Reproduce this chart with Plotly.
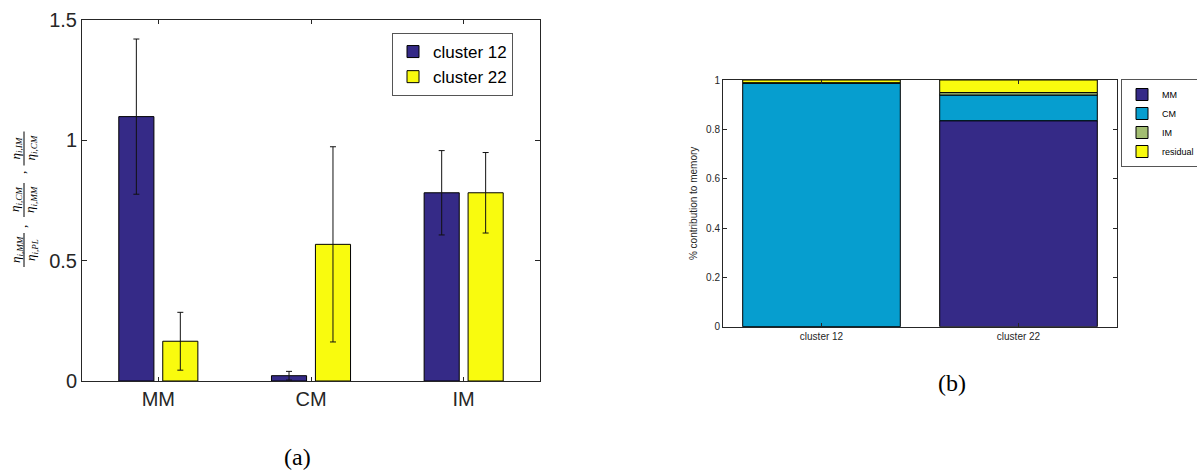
import plotly.graph_objects as go

# ---- data: panel (a) ----
categories = ["MM", "CM", "IM"]
c12_vals = [1.097, 0.022, 0.781]
c12_err = [0.322, 0.018, 0.175]
c22_vals = [0.165, 0.567, 0.781]
c22_err = [0.120, 0.405, 0.167]

# ---- data: panel (b) ----
clusters = ["cluster 12", "cluster 22"]
mm_share = [0.0, 0.835]
cm_share = [0.987, 0.104]
im_share = [0.002, 0.010]
residual_share = [0.011, 0.051]

left_yticks = [0, 0.5, 1, 1.5]
left_yticklabels = ["0", "0.5", "1", "1.5"]
right_yticks = [0, 0.2, 0.4, 0.6, 0.8, 1]
right_yticklabels = ["0", "0.2", "0.4", "0.6", "0.8", "1"]

DARK = "#352A87"
CYAN = "#069ECF"
GREEN = "#A3BE72"
YELLOW = "#F9FB0E"
AX = "#262626"
W, H = 1197, 470

fig = go.Figure()

bw = 0.23
err_style = dict(type="data", thickness=1, width=3, color="#111111")
fig.add_trace(go.Bar(
    x=categories, y=c12_vals, name="cluster 12", xaxis="x", yaxis="y",
    width=bw, offset=-0.144 - bw / 2,
    marker=dict(color=DARK, line=dict(color="black", width=1)),
    error_y=dict(array=c12_err, **err_style), legend="legend",
))
fig.add_trace(go.Bar(
    x=categories, y=c22_vals, name="cluster 22", xaxis="x", yaxis="y",
    width=bw, offset=0.144 - bw / 2,
    marker=dict(color=YELLOW, line=dict(color="black", width=1)),
    error_y=dict(array=c22_err, **err_style), legend="legend",
))

# stacked shares (panel b), bases from cumulative sums
layers = [("MM", mm_share, DARK), ("CM", cm_share, CYAN),
          ("IM", im_share, GREEN), ("residual", residual_share, YELLOW)]
base = [0.0] * len(clusters)
for name, vals, col in layers:
    fig.add_trace(go.Bar(
        x=clusters, y=vals, base=list(base), name=name, xaxis="x2", yaxis="y2",
        width=0.8, marker=dict(color=col, line=dict(color="black", width=1)),
        legend="legend2",
    ))
    base = [b + v for b, v in zip(base, vals)]

axis_common = dict(showline=True, linecolor=AX, linewidth=1, mirror="ticks",
                   ticks="inside", tickcolor=AX, showgrid=False, zeroline=False,
                   automargin=False)

fig.update_layout(
    width=W, height=H,
    margin=dict(l=0, r=0, t=0, b=0, pad=0, autoexpand=False),
    paper_bgcolor="white", plot_bgcolor="white",
    barmode="overlay",
    xaxis=dict(domain=[82 / W, 540 / W], range=[-0.5, 2.5], anchor="y",
               tickfont=dict(family="Liberation Sans", size=20, color=AX),
               ticklen=4, **axis_common),
    yaxis=dict(domain=[1 - 381 / H, 1 - 19.5 / H], range=[0, 1.5], anchor="x",
               tickvals=left_yticks, ticktext=left_yticklabels,
               tickfont=dict(family="Liberation Sans", size=20, color=AX),
               ticklen=5, **axis_common),
    xaxis2=dict(domain=[723 / W, 1117 / W], range=[-0.5, 1.5], anchor="y2",
                tickfont=dict(family="Liberation Sans", size=10, color=AX),
                ticklen=4, **axis_common),
    yaxis2=dict(domain=[1 - 326.7 / H, 1 - 80 / H], range=[0, 1], anchor="x2",
                tickvals=right_yticks, ticktext=right_yticklabels,
                tickfont=dict(family="Liberation Sans", size=10, color=AX),
                ticklen=4,
                title=dict(text="% contribution to memory",
                           font=dict(family="Liberation Sans", size=10, color=AX),
                           standoff=6),
                **axis_common),
    legend=dict(x=392 / W, y=1 - 33 / H, xanchor="left", yanchor="top",
                bgcolor="white", bordercolor="#555555", borderwidth=1,
                font=dict(family="Liberation Sans", size=17, color="black"),
                itemwidth=30, tracegroupgap=0),
    legend2=dict(x=1121 / W, y=1 - 79 / H, xanchor="left", yanchor="top",
                 bgcolor="white", bordercolor="#555555", borderwidth=1,
                 font=dict(family="Liberation Sans", size=9, color="black"),
                 itemwidth=30, tracegroupgap=0),
    showlegend=True,
)

# captions
cap_font = dict(family="Liberation Serif", size=24, color="black")
fig.add_annotation(text="(a)", x=297 / W, y=1 - 457 / H, xref="paper", yref="paper",
                   xanchor="center", yanchor="middle", showarrow=False, font=cap_font)
fig.add_annotation(text="(b)", x=952 / W, y=1 - 383 / H, xref="paper", yref="paper",
                   xanchor="center", yanchor="middle", showarrow=False, font=cap_font)

# left y label: three fractions, rotated
fracs = [("MM", "PL", 250), ("CM", "MM", 200), ("IM", "CM", 148.5)]
serif = dict(family="Liberation Serif", size=13, color="black")
for num, den, yc in fracs:
    fig.add_annotation(text=f"<i>η</i><sub><i>i,{num}</i></sub>", x=16 / W, y=1 - yc / H,
                       xref="paper", yref="paper", showarrow=False, textangle=-90,
                       xanchor="center", yanchor="middle", font=serif)
    fig.add_annotation(text=f"<i>η</i><sub><i>i,{den}</i></sub>", x=31 / W, y=1 - yc / H,
                       xref="paper", yref="paper", showarrow=False, textangle=-90,
                       xanchor="center", yanchor="middle", font=serif)
    fig.add_shape(type="line", xref="paper", yref="paper",
                  x0=24 / W, x1=24 / W, y0=1 - (yc - 17) / H, y1=1 - (yc + 17) / H,
                  line=dict(color="black", width=1))
for yc in (227, 173):
    fig.add_annotation(text=",", x=21 / W, y=1 - yc / H, xref="paper", yref="paper",
                       xanchor="center", yanchor="middle",
                       showarrow=False, textangle=-90, font=serif)

fig.write_html("out.html")
